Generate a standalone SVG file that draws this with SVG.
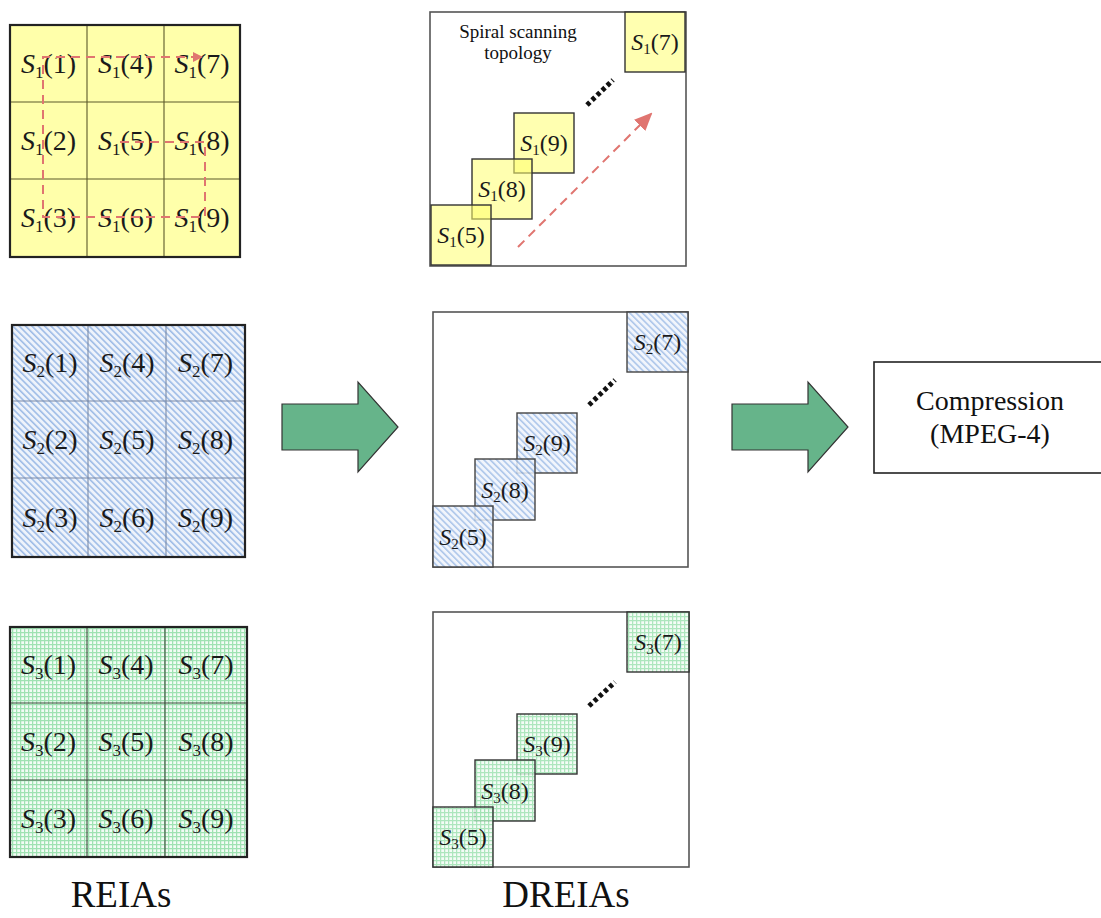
<svg xmlns="http://www.w3.org/2000/svg" width="1101" height="918" viewBox="0 0 1101 918">
<style>
.cell{font-family:"Liberation Serif","Times New Roman",serif;font-size:28px;fill:#1a1a1a;text-anchor:middle}
.sq{font-family:"Liberation Serif","Times New Roman",serif;font-size:24px;fill:#1a1a1a;text-anchor:middle}
.it{font-style:italic}
.lbl{font-family:"Liberation Serif","Times New Roman",serif;font-size:37px;fill:#111;text-anchor:middle}
.comp{font-family:"Liberation Serif","Times New Roman",serif;font-size:28px;fill:#111;text-anchor:middle}
.note{font-family:"Liberation Serif","Times New Roman",serif;font-size:19px;fill:#111;text-anchor:middle}
.outer{fill:none;stroke:#222;stroke-width:2.2}
.inner{fill:none;stroke-width:1.1}
.dbox{fill:#fff;stroke:#555;stroke-width:1.6}
.ysq{fill:#ffff70;fill-opacity:0.55;stroke:#333;stroke-width:1.4}
.bsq{fill:url(#hatchB);fill-opacity:0.85;stroke:#444;stroke-width:1.4}
.gsq{fill:url(#hatchG);fill-opacity:0.85;stroke:#333;stroke-width:1.4}
.dots{stroke:#111;stroke-width:5;stroke-dasharray:4 3;fill:none}
.red{stroke:#e07570;stroke-width:2;stroke-dasharray:9 6;fill:none}
.garrow{fill:#66b48a;stroke:#333;stroke-width:1.2}
</style>
<defs>
<pattern id="hatchB" patternUnits="userSpaceOnUse" width="4.5" height="4.5" patternTransform="rotate(45)">
<rect width="4.5" height="4.5" fill="#eef3fb"/>
<line x1="0" y1="1" x2="4.5" y2="1" stroke="#93b4e4" stroke-width="1.4"/>
</pattern>
<pattern id="hatchG" patternUnits="userSpaceOnUse" width="4" height="4">
<rect width="4" height="4" fill="#f2fcf5"/>
<path d="M0 0.6H4M0.6 0V4" stroke="#9fe2b2" stroke-width="1.3"/>
</pattern>
<marker id="redhead" markerWidth="10" markerHeight="10" refX="8" refY="5" orient="auto" markerUnits="userSpaceOnUse">
<path d="M0,0 L10,5 L0,10 Z" fill="#e07570"/>
</marker>
<marker id="redhead2" markerWidth="18" markerHeight="16" refX="16" refY="8" orient="auto" markerUnits="userSpaceOnUse">
<path d="M0,0 L18,8 L0,16 Z" fill="#e07570"/>
</marker>
</defs>
<rect width="1101" height="918" fill="#fff"/>

<g id="reia1">
<rect x="10" y="25" width="230" height="232" fill="#ffffaa"/>
<path class="inner" stroke="#5c5a2a" d="M87 25V257M164 25V257M10 102H240M10 179H240"/>
<rect class="outer" x="10" y="25" width="230" height="232"/>
<text class="cell" x="48.5" y="73"><tspan class="it">S</tspan><tspan font-size="17" dy="5">1</tspan><tspan dy="-5">(1)</tspan></text>
<text class="cell" x="125.5" y="73"><tspan class="it">S</tspan><tspan font-size="17" dy="5">1</tspan><tspan dy="-5">(4)</tspan></text>
<text class="cell" x="202" y="73"><tspan class="it">S</tspan><tspan font-size="17" dy="5">1</tspan><tspan dy="-5">(7)</tspan></text>
<text class="cell" x="48.5" y="150"><tspan class="it">S</tspan><tspan font-size="17" dy="5">1</tspan><tspan dy="-5">(2)</tspan></text>
<text class="cell" x="125.5" y="150"><tspan class="it">S</tspan><tspan font-size="17" dy="5">1</tspan><tspan dy="-5">(5)</tspan></text>
<text class="cell" x="202" y="150"><tspan class="it">S</tspan><tspan font-size="17" dy="5">1</tspan><tspan dy="-5">(8)</tspan></text>
<text class="cell" x="48.5" y="227"><tspan class="it">S</tspan><tspan font-size="17" dy="5">1</tspan><tspan dy="-5">(3)</tspan></text>
<text class="cell" x="125.5" y="227"><tspan class="it">S</tspan><tspan font-size="17" dy="5">1</tspan><tspan dy="-5">(6)</tspan></text>
<text class="cell" x="202" y="227"><tspan class="it">S</tspan><tspan font-size="17" dy="5">1</tspan><tspan dy="-5">(9)</tspan></text>
</g>

<g id="reia2">
<rect x="12" y="325" width="233" height="232" fill="url(#hatchB)"/>
<path class="inner" stroke="#7a8aa8" d="M88 325V557M166 325V557M12 401H245M12 478H245"/>
<rect class="outer" x="12" y="325" width="233" height="232"/>
<text class="cell" x="50" y="372"><tspan class="it">S</tspan><tspan font-size="17" dy="5">2</tspan><tspan dy="-5">(1)</tspan></text>
<text class="cell" x="127" y="372"><tspan class="it">S</tspan><tspan font-size="17" dy="5">2</tspan><tspan dy="-5">(4)</tspan></text>
<text class="cell" x="205.5" y="372"><tspan class="it">S</tspan><tspan font-size="17" dy="5">2</tspan><tspan dy="-5">(7)</tspan></text>
<text class="cell" x="50" y="449"><tspan class="it">S</tspan><tspan font-size="17" dy="5">2</tspan><tspan dy="-5">(2)</tspan></text>
<text class="cell" x="127" y="449"><tspan class="it">S</tspan><tspan font-size="17" dy="5">2</tspan><tspan dy="-5">(5)</tspan></text>
<text class="cell" x="205.5" y="449"><tspan class="it">S</tspan><tspan font-size="17" dy="5">2</tspan><tspan dy="-5">(8)</tspan></text>
<text class="cell" x="50" y="527"><tspan class="it">S</tspan><tspan font-size="17" dy="5">2</tspan><tspan dy="-5">(3)</tspan></text>
<text class="cell" x="127" y="527"><tspan class="it">S</tspan><tspan font-size="17" dy="5">2</tspan><tspan dy="-5">(6)</tspan></text>
<text class="cell" x="205.5" y="527"><tspan class="it">S</tspan><tspan font-size="17" dy="5">2</tspan><tspan dy="-5">(9)</tspan></text>
</g>

<g id="reia3">
<rect x="10" y="627" width="237" height="230" fill="url(#hatchG)"/>
<path class="inner" stroke="#3a4a3a" d="M87 627V857M165 627V857M10 703H247M10 780H247"/>
<rect class="outer" x="10" y="627" width="237" height="230"/>
<text class="cell" x="48.5" y="674"><tspan class="it">S</tspan><tspan font-size="17" dy="5">3</tspan><tspan dy="-5">(1)</tspan></text>
<text class="cell" x="126" y="674"><tspan class="it">S</tspan><tspan font-size="17" dy="5">3</tspan><tspan dy="-5">(4)</tspan></text>
<text class="cell" x="206" y="674"><tspan class="it">S</tspan><tspan font-size="17" dy="5">3</tspan><tspan dy="-5">(7)</tspan></text>
<text class="cell" x="48.5" y="751"><tspan class="it">S</tspan><tspan font-size="17" dy="5">3</tspan><tspan dy="-5">(2)</tspan></text>
<text class="cell" x="126" y="751"><tspan class="it">S</tspan><tspan font-size="17" dy="5">3</tspan><tspan dy="-5">(5)</tspan></text>
<text class="cell" x="206" y="751"><tspan class="it">S</tspan><tspan font-size="17" dy="5">3</tspan><tspan dy="-5">(8)</tspan></text>
<text class="cell" x="48.5" y="828"><tspan class="it">S</tspan><tspan font-size="17" dy="5">3</tspan><tspan dy="-5">(3)</tspan></text>
<text class="cell" x="126" y="828"><tspan class="it">S</tspan><tspan font-size="17" dy="5">3</tspan><tspan dy="-5">(6)</tspan></text>
<text class="cell" x="206" y="828"><tspan class="it">S</tspan><tspan font-size="17" dy="5">3</tspan><tspan dy="-5">(9)</tspan></text>
</g>

<g id="dreia1">
<rect class="dbox" x="430" y="12" width="256" height="254"/>
<text class="note" x="518" y="38">Spiral scanning</text>
<text class="note" x="518" y="59">topology</text>
<rect class="ysq" x="625" y="12" width="60" height="60"/>
<rect class="ysq" x="514" y="113" width="60" height="60"/>
<rect class="ysq" x="472" y="159" width="60" height="60"/>
<rect class="ysq" x="431" y="205" width="60" height="60"/>
<text class="sq" x="655" y="50"><tspan class="it">S</tspan><tspan font-size="15" dy="4">1</tspan><tspan dy="-4">(7)</tspan></text>
<text class="sq" x="544" y="151"><tspan class="it">S</tspan><tspan font-size="15" dy="4">1</tspan><tspan dy="-4">(9)</tspan></text>
<text class="sq" x="502" y="197"><tspan class="it">S</tspan><tspan font-size="15" dy="4">1</tspan><tspan dy="-4">(8)</tspan></text>
<text class="sq" x="461" y="243"><tspan class="it">S</tspan><tspan font-size="15" dy="4">1</tspan><tspan dy="-4">(5)</tspan></text>
<path class="dots" d="M587 105L613 80"/>
</g>

<g id="dreia2">
<rect class="dbox" x="433" y="312" width="255" height="255"/>
<rect class="bsq" x="627" y="312" width="61" height="60"/>
<rect class="bsq" x="517" y="413" width="60" height="60"/>
<rect class="bsq" x="475" y="459" width="60" height="61"/>
<rect class="bsq" x="433" y="506" width="60" height="61"/>
<text class="sq" x="657.5" y="350"><tspan class="it">S</tspan><tspan font-size="15" dy="4">2</tspan><tspan dy="-4">(7)</tspan></text>
<text class="sq" x="547" y="451"><tspan class="it">S</tspan><tspan font-size="15" dy="4">2</tspan><tspan dy="-4">(9)</tspan></text>
<text class="sq" x="505" y="498"><tspan class="it">S</tspan><tspan font-size="15" dy="4">2</tspan><tspan dy="-4">(8)</tspan></text>
<text class="sq" x="463" y="545"><tspan class="it">S</tspan><tspan font-size="15" dy="4">2</tspan><tspan dy="-4">(5)</tspan></text>
<path class="dots" d="M589 405L615 380"/>
</g>

<g id="dreia3">
<rect class="dbox" x="433" y="612" width="256" height="255"/>
<rect class="gsq" x="627" y="612" width="62" height="60"/>
<rect class="gsq" x="517" y="714" width="60" height="60"/>
<rect class="gsq" x="475" y="760" width="60" height="61"/>
<rect class="gsq" x="433" y="807" width="60" height="60"/>
<text class="sq" x="658" y="650"><tspan class="it">S</tspan><tspan font-size="15" dy="4">3</tspan><tspan dy="-4">(7)</tspan></text>
<text class="sq" x="547" y="752"><tspan class="it">S</tspan><tspan font-size="15" dy="4">3</tspan><tspan dy="-4">(9)</tspan></text>
<text class="sq" x="505" y="799"><tspan class="it">S</tspan><tspan font-size="15" dy="4">3</tspan><tspan dy="-4">(8)</tspan></text>
<text class="sq" x="463" y="845"><tspan class="it">S</tspan><tspan font-size="15" dy="4">3</tspan><tspan dy="-4">(5)</tspan></text>
<path class="dots" d="M589 706L615 682"/>
</g>

<g id="compression">
<rect x="874" y="362" width="240" height="111" fill="#fff" stroke="#222" stroke-width="1.6"/>
<text class="comp" x="990" y="410">Compression</text>
<text class="comp" x="990" y="443">(MPEG-4)</text>
</g>

<g id="labels">
<text class="lbl" x="121" y="907">REIAs</text>
<text class="lbl" x="566" y="907">DREIAs</text>
</g>

<g id="connectors">
<path class="red" d="M120 142H205V217H43V57H201" marker-end="url(#redhead)"/>
<path class="red" d="M518 247L651 114" marker-end="url(#redhead2)"/>
<path class="garrow" d="M282 404H358V382L398 427L358 472V450H282Z"/>
<path class="garrow" d="M732 404H808V382L848 427L808 472V450H732Z"/>
</g>
</svg>
